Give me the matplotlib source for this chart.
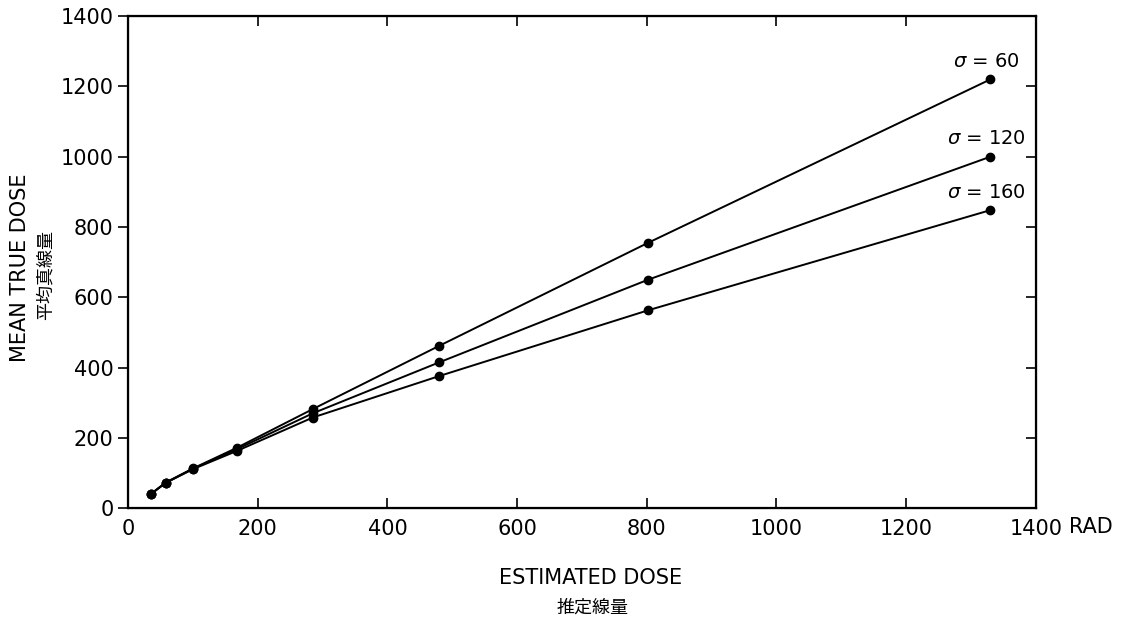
import matplotlib
matplotlib.use('Agg')
import matplotlib.pyplot as plt

# estimated dose (rad) and mean true dose for three error parameters
est_dose = [35, 58, 100, 168, 285, 480, 802, 1330]
sigma_60 = [40, 73, 113, 172, 282, 462, 755, 1220]
sigma_120 = [40, 72, 112, 168, 270, 415, 650, 1000]
sigma_160 = [40, 72, 111, 163, 258, 376, 563, 848]
series = [("60", sigma_60), ("120", sigma_120), ("160", sigma_160)]
ticks = [0, 200, 400, 600, 800, 1000, 1200, 1400]

plt.rcParams['font.family'] = ['DejaVu Sans', 'Noto Sans CJK JP']

fig = plt.figure(figsize=(11.21, 6.19), dpi=100)
ax = fig.add_axes([0.1142, 0.179, 0.8098, 0.795])

for name, vals in series:
    ax.plot(est_dose, vals, '-o', color='black', lw=1.4, ms=6)
    ax.annotate(r'$\sigma$ = ' + name, (est_dose[-1], vals[-1]),
                xytext=(-3, 6), textcoords='offset points',
                ha='center', va='bottom', fontsize=14)

ax.set_xlim(0, 1400)
ax.set_ylim(0, 1400)
ax.set_xticks(ticks)
ax.set_yticks(ticks)
ax.tick_params(axis='y', direction='out', length=7, width=1.2, labelsize=15)
ax.tick_params(axis='x', direction='in', length=7, width=1.2, labelsize=15, top=True, pad=8)
for s in ax.spines.values():
    s.set_linewidth(1.6)

# right-side ticks point inward
ax2 = ax.twinx()
ax2.set_ylim(0, 1400)
ax2.set_yticks(ticks)
ax2.tick_params(axis='y', direction='in', length=7, width=1.2, labelright=False)

fig.text(0.954, 0.149, 'RAD', ha='left', va='center', fontsize=15)

fig.text(0.018, 0.567, 'MEAN TRUE DOSE', rotation=90, ha='center', va='center', fontsize=15)
fig.text(0.041, 0.555, '平均真線量', rotation=90, ha='center', va='center', fontsize=13,
         family=['Noto Sans CJK JP'])
fig.text(0.527, 0.066, 'ESTIMATED DOSE', ha='center', va='center', fontsize=15)
fig.text(0.529, 0.018, '推定線量', ha='center', va='center', fontsize=13,
         family=['Noto Sans CJK JP'])

fig.savefig('out.png', dpi=100)
